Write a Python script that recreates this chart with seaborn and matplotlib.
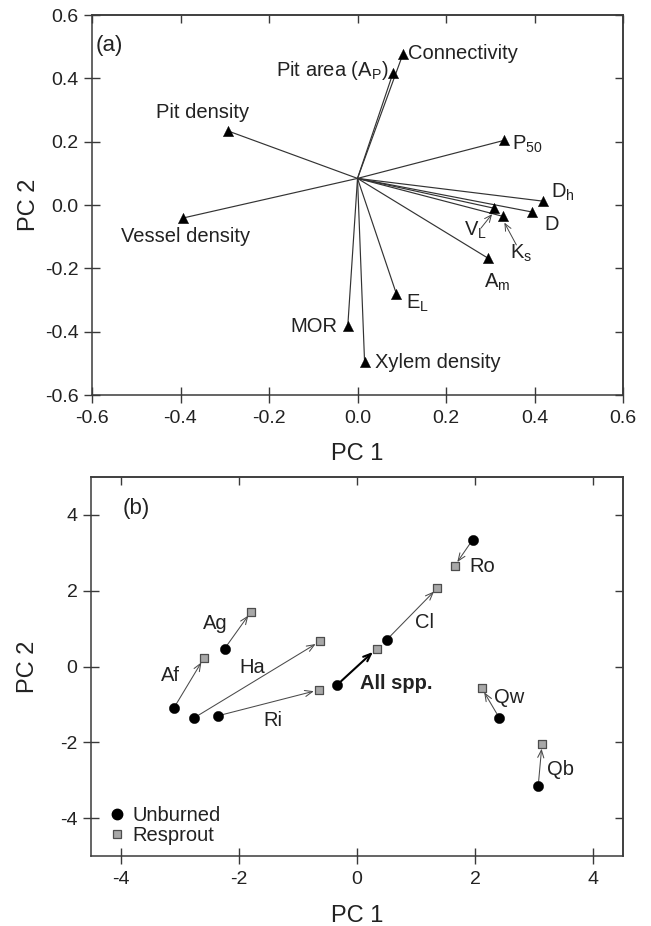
import matplotlib
matplotlib.use("Agg")
import matplotlib.pyplot as plt
from matplotlib.lines import Line2D
import seaborn as sns
import pandas as pd

# ---------------- data: panel (a) loadings ----------------
traits = ["Connectivity", "Pit area", "Pit density", "P50", "Vessel density",
          "Dh", "D", "VL", "Ks", "Am", "EL", "MOR", "Xylem density"]
trait_pc1 = [0.103, 0.080, -0.293, 0.331, -0.394, 0.420, 0.394, 0.308, 0.329,
             0.295, 0.088, -0.022, 0.016]
trait_pc2 = [0.478, 0.416, 0.234, 0.204, -0.041, 0.012, -0.022, -0.010, -0.036,
             -0.168, -0.281, -0.383, -0.496]
origin_pc1 = 0.0
origin_pc2 = 0.084

# ---------------- data: panel (b) scores ----------------
species = ["Af", "Ag", "Ha", "Ri", "All spp.", "Cl", "Ro", "Qw", "Qb"]
unburned_pc1 = [-3.10, -2.24, -2.75, -2.35, -0.33, 0.50, 1.955, 2.405, 3.065]
unburned_pc2 = [-1.10, 0.47, -1.35, -1.30, -0.475, 0.70, 3.34, -1.35, -3.16]
resprout_pc1 = [-2.59, -1.79, -0.63, -0.65, 0.33, 1.36, 1.65, 2.11, 3.13]
resprout_pc2 = [0.22, 1.45, 0.66, -0.62, 0.47, 2.07, 2.65, -0.57, -2.04]

ticks_a = [-0.6, -0.4, -0.2, 0.0, 0.2, 0.4, 0.6]
ticks_bx = [-4, -2, 0, 2, 4]
ticks_by = [-4, -2, 0, 2, 4]

# ---------------- label placement (text layout) ----------------
trait_text = {
    "Connectivity": ("Connectivity", 0.115, 0.478, "left"),
    "Pit area": ("Pit area (A$_\\mathregular{P}$)", 0.070, 0.424, "right"),
    "Pit density": ("Pit density", -0.35, 0.292, "center"),
    "P50": ("P$_\\mathregular{50}$", 0.350, 0.190, "left"),
    "Vessel density": ("Vessel density", -0.388, -0.100, "center"),
    "Dh": ("D$_\\mathregular{h}$", 0.438, 0.040, "left"),
    "D": ("D", 0.423, -0.062, "left"),
    "VL": ("V$_\\mathregular{L}$", 0.240, -0.080, "left"),
    "Ks": ("K$_\\mathregular{s}$", 0.345, -0.152, "left"),
    "Am": ("A$_\\mathregular{m}$", 0.315, -0.243, "center"),
    "EL": ("E$_\\mathregular{L}$", 0.110, -0.310, "left"),
    "MOR": ("MOR", -0.045, -0.383, "right"),
    "Xylem density": ("Xylem density", 0.040, -0.498, "left"),
}
pointer_start = {"VL": (0.279, -0.073), "Ks": (0.359, -0.126)}

species_text = {
    "Af": (-3.16, -0.25, "center"),
    "Ag": (-2.39, 1.14, "center"),
    "Ha": (-1.77, -0.03, "center"),
    "Ri": (-1.42, -1.42, "center"),
    "All spp.": (0.05, -0.46, "left"),
    "Cl": (1.14, 1.17, "center"),
    "Ro": (1.90, 2.65, "left"),
    "Qw": (2.32, -0.81, "left"),
    "Qb": (3.21, -2.73, "left"),
}

# ---------------- style ----------------
sns.set_style("ticks")
plt.rcParams["font.family"] = ["Liberation Sans", "DejaVu Sans"]
plt.rcParams["mathtext.fontset"] = "custom"
plt.rcParams["mathtext.rm"] = "Liberation Sans"
plt.rcParams["mathtext.it"] = "Liberation Sans:italic"
plt.rcParams["mathtext.bf"] = "Liberation Sans:bold"

SPINE = "#3a3a3a"
TXT = "#222222"
FS = 14.5

fig = plt.figure(figsize=(6.51, 9.26), dpi=100)
ax1 = fig.add_axes([92 / 651, 1 - 395 / 926, 531 / 651, 380 / 926])
ax2 = fig.add_axes([91 / 651, 1 - 856 / 926, 532 / 651, 379 / 926])


def style_axes(ax, xt, yt, xlim, ylim, xfmt):
    ax.set_xlim(*xlim)
    ax.set_ylim(*ylim)
    ax.set_xticks(xt)
    ax.set_yticks(yt)
    ax.set_xticklabels([xfmt(v) for v in xt])
    ax.set_yticklabels([xfmt(v) for v in yt])
    for s in ax.spines.values():
        s.set_visible(True)
        s.set_color(SPINE)
        s.set_linewidth(1.1)
    ax.tick_params(axis="both", direction="inout", length=11.5, width=1.0,
                   color=SPINE, labelsize=14, labelcolor=TXT, pad=5)
    ax.tick_params(axis="y", pad=4)
    ax.tick_params(top=False, right=False)
    top = ax.secondary_xaxis("top")
    top.set_xticks(xt)
    top.tick_params(direction="in", length=6, width=1.0, color=SPINE,
                    labeltop=False)
    top.spines["top"].set_color(SPINE)
    top.spines["top"].set_linewidth(1.1)
    right = ax.secondary_yaxis("right")
    right.set_yticks(yt)
    right.tick_params(direction="in", length=6, width=1.0, color=SPINE,
                      labelright=False)
    right.spines["right"].set_color(SPINE)
    right.spines["right"].set_linewidth(1.1)


# ---------------- panel (a) ----------------
df_a = pd.DataFrame({"trait": traits, "PC1": trait_pc1, "PC2": trait_pc2})
for px, py in zip(df_a["PC1"], df_a["PC2"]):
    ax1.plot([origin_pc1, px], [origin_pc2, py], color="#333333", lw=0.85,
             zorder=1, solid_capstyle="butt")
sns.scatterplot(data=df_a, x="PC1", y="PC2", marker="^", s=55, color="black",
                edgecolor="black", linewidth=0.3, ax=ax1, zorder=3, legend=False)
for t, px, py in zip(traits, trait_pc1, trait_pc2):
    lab, lx, ly, ha = trait_text[t]
    ax1.text(lx, ly, lab, ha=ha, va="center", fontsize=FS, color=TXT)
    if t in pointer_start:
        ax1.annotate("", xy=(px, py - 0.012), xytext=pointer_start[t],
                     arrowprops=dict(arrowstyle="->,head_length=0.5,head_width=0.22",
                                     color="#444444", lw=0.7,
                                     shrinkA=0, shrinkB=2))
ax1.text(-0.592, 0.505, "(a)", ha="left", va="center", fontsize=16, color=TXT)
style_axes(ax1, ticks_a, ticks_a, (-0.6, 0.6), (-0.6, 0.6),
           lambda v: f"{v:.1f}")
ax1.set_xlabel("PC 1", fontsize=17, color=TXT)
ax1.set_ylabel("PC 2", fontsize=17, color=TXT)
ax1.xaxis.set_label_coords(0.5, -0.125)
ax1.yaxis.set_label_coords(-0.098, 0.5)

# ---------------- panel (b) ----------------
df_u = pd.DataFrame({"sp": species, "PC1": unburned_pc1, "PC2": unburned_pc2})
df_r = pd.DataFrame({"sp": species, "PC1": resprout_pc1, "PC2": resprout_pc2})
for sp, ux, uy, rx, ry in zip(species, unburned_pc1, unburned_pc2,
                               resprout_pc1, resprout_pc2):
    bold = sp == "All spp."
    ax2.annotate("", xy=(rx, ry), xytext=(ux, uy),
                 arrowprops=dict(arrowstyle="->,head_length=0.55,head_width=0.22",
                                 color="black" if bold else "#4a4a4a",
                                 lw=1.5 if bold else 0.75,
                                 shrinkA=3.5, shrinkB=3.5), zorder=2)
sns.scatterplot(data=df_u, x="PC1", y="PC2", marker="o", s=55, color="black",
                edgecolor="black", linewidth=0.3, ax=ax2, zorder=3, legend=False)
sns.scatterplot(data=df_r, x="PC1", y="PC2", marker="s", s=30, color="#a8a8a8",
                edgecolor="#4d4d4d", linewidth=0.9, ax=ax2, zorder=4, legend=False)
for sp in species:
    lx, ly, ha = species_text[sp]
    ax2.text(lx, ly, sp, ha=ha, va="center", fontsize=FS, color=TXT,
             fontweight="bold" if sp == "All spp." else "normal")
ax2.text(-3.97, 4.18, "(b)", ha="left", va="center", fontsize=16, color=TXT)
style_axes(ax2, ticks_bx, ticks_by, (-4.5, 4.5), (-5, 5), lambda v: f"{v:d}")
ax2.set_xlabel("PC 1", fontsize=17, color=TXT)
ax2.set_ylabel("PC 2", fontsize=17, color=TXT)
ax2.xaxis.set_label_coords(0.5, -0.13)
ax2.yaxis.set_label_coords(-0.098, 0.5)

handles = [
    Line2D([], [], marker="o", ls="", color="black", markersize=7.5),
    Line2D([], [], marker="s", ls="", markerfacecolor="#a8a8a8",
           markeredgecolor="#4d4d4d", markeredgewidth=0.9, markersize=5.5),
]
ax2.legend(handles, ["Unburned", "Resprout"], loc="lower left",
           bbox_to_anchor=(0.035, 0.03), frameon=False, fontsize=FS,
           handlelength=0.7, handletextpad=0.45, labelspacing=0.05,
           borderpad=0.0, borderaxespad=0.0, labelcolor=TXT)

fig.savefig("out.png", dpi=100)
